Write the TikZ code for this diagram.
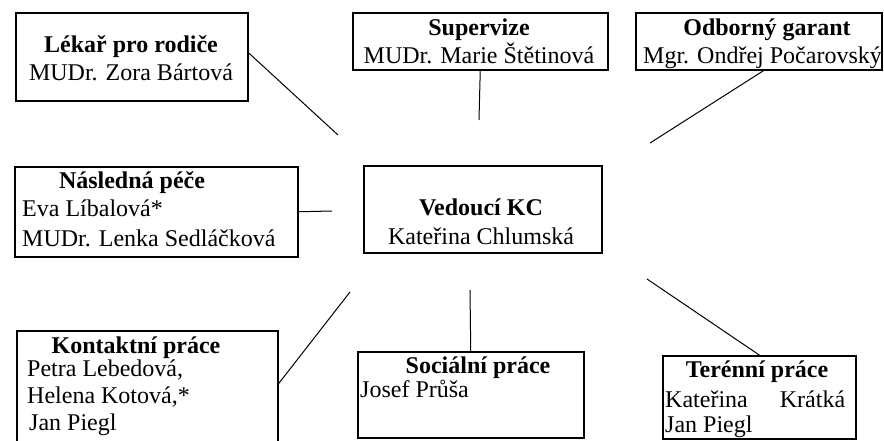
\documentclass[tikz,border=0pt]{standalone}
\usepackage{fontspec}
\setmainfont{Liberation Serif}
\begin{document}
\begin{tikzpicture}[x=1pt,y=-1pt,
  box/.style={draw, line width=1.5pt, rectangle, inner sep=0pt, anchor=north west},
  txt/.style={inner sep=0pt, font=\fontsize{24}{27}\selectfont},
  hd/.style={inner sep=0pt, font=\fontsize{24}{27}\selectfont\bfseries, anchor=base},
  bc/.style={txt, anchor=base},
  bd/.style={txt, anchor=base west},
  link/.style={line width=1pt}]
\useasboundingbox (0,0) rectangle (884,440);
\clip (0,0) rectangle (884,440);
% boxes
\node[box, minimum width=232pt, minimum height=88pt] (lekar) at (15,12) {};
\node[box, minimum width=255pt, minimum height=57pt] (superv) at (352,12) {};
\node[box, minimum width=246pt, minimum height=57pt] (garant) at (635,12) {};
\node[box, minimum width=283pt, minimum height=90pt] (nasledna) at (14,166) {};
\node[box, minimum width=238pt, minimum height=87pt] (center) at (363,165) {};
\node[box, minimum width=261pt, minimum height=120pt] (kontakt) at (16,330) {};
\node[box, minimum width=226pt, minimum height=86pt] (social) at (357,351) {};
\node[box, minimum width=193pt, minimum height=83pt] (teren) at (662,355) {};
% texts
\node[hd] (t1) at (131,52) {Lékař pro rodiče};
\node[bc] (b1) at (131,80) {MUDr. Zora Bártová};
\node[hd] (t2) at (479,35) {Supervize};
\node[bc] (b2) at (479,63) {MUDr. Marie Štětinová};
\node[hd] (t3) at (767,35) {Odborný garant};
\node[bd] (b3) at (643,63) {Mgr. Ondřej Počarovský};
\node[hd] (t4) at (132,188) {Následná péče};
\node[bd] (b4a) at (22,216) {Eva Líbalová*};
\node[bd] (b4b) at (22,246) {MUDr. Lenka Sedláčková};
\node[hd] (t5) at (481,215) {Vedoucí KC};
\node[bc] (b5) at (481,244) {Kateřina Chlumská};
\node[hd] (t6) at (136,353) {Kontaktní práce};
\node[bd] (b6a) at (27,376) {Petra Lebedová,};
\node[bd] (b6b) at (27,403) {Helena Kotová,*};
\node[bd] (b6c) at (29,430) {Jan Piegl};
\node[hd] (t7) at (478,373) {Sociální práce};
\node[bd] (b7) at (360,397) {Josef Průša};
\node[hd] (t8) at (757,377) {Terénní práce};
\node[bd] (b8a) at (665,407) {\makebox[180pt][l]{Kateřina\hfill Krátká}};
\node[bd] (b8b) at (665,432) {Jan Piegl};
% free ends
\coordinate (e1) at (338,135);
\coordinate (e2) at (479,120);
\coordinate (e3) at (650,143);
\coordinate (e4) at (332,211);
\coordinate (e5) at (350,292);
\coordinate (e6) at (470,290);
\coordinate (e7) at (647,279);
% connectors
\draw[link] ([yshift=4pt]lekar.east) -- (e1);
\draw[link] (superv.south) -- (e2);
\draw[link] ([xshift=5pt]garant.south) -- (e3);
\draw[link] (nasledna.east) -- (e4);
\draw[link] ([yshift=7pt]kontakt.east) -- (e5);
\draw[link] (social.north) -- (e6);
\draw[link] (teren.north) -- (e7);
\end{tikzpicture}
\end{document}
